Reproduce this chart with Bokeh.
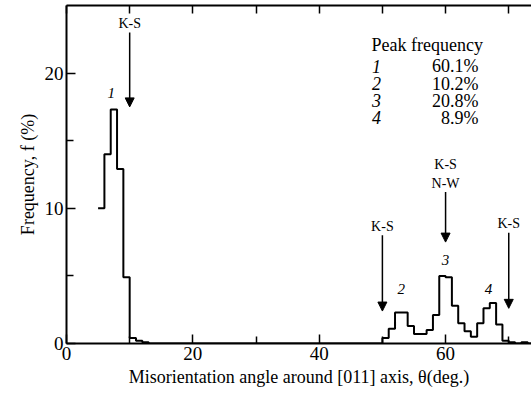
from bokeh.plotting import figure
from bokeh.models import (FixedTicker, LinearAxis, Arrow, NormalHead, Range1d,
                          ColumnDataSource)
from bokeh.core.properties import value
from bokeh.embed import file_html
from bokeh.resources import INLINE

FONT = "Liberation Serif"

# ---- data -------------------------------------------------------------
bin_start = 5          # first bin's left edge (deg)
bin_width = 1          # deg
frequency = [10.0, 14.0, 17.3, 12.9, 4.9, 0.4, 0.2, 0.1,
             0, 0, 0, 0, 0, 0, 0, 0, 0, 0, 0, 0, 0, 0, 0, 0, 0, 0, 0,
             0, 0, 0, 0, 0, 0, 0, 0, 0, 0, 0, 0, 0, 0, 0, 0, 0, 0,
             0.4, 1.1, 2.3, 2.3, 1.3, 0.7, 0.7, 1.0, 2.1, 5.0, 4.9, 2.8,
             1.5, 0.9, 0.5, 1.5, 2.6, 3.0, 1.4, 0.2, 0.1, 0.0, 0.1, 0.0]

x_ticks = [0, 20, 40, 60]
x_minor = [10, 30, 50, 70]
y_ticks = [0, 10, 20]
y_minor = [5, 15]

# K-S / N-W orientation markers
marker_angle = [10, 50, 60, 70]
marker_top = [23.0, 8.0, 11.2, 8.2]
marker_tip = [17.5, 2.4, 7.5, 2.6]
marker_label_x = [10, 50, 60, 60, 70]
marker_label_y = [23.1, 8.1, 11.3, 12.65, 8.3]
marker_label = ["K-S", "K-S", "N-W", "K-S", "K-S"]

# peak numbers
peak_ids = ["1", "2", "3", "4"]
peak_x = [7.1, 53.0, 60.0, 66.8]
peak_y = [18.5, 4.05, 6.15, 4.05]
peak_freq = ["60.1%", "10.2%", "20.8%", "8.9%"]

# ---- figure -------------------------------------------------------------
p = figure(width=531, height=396, output_backend="svg", toolbar_location=None,
           x_range=Range1d(0, 73.6), y_range=Range1d(0, 25),
           min_border_left=66, min_border_right=0, min_border_top=5,
           min_border_bottom=53)
p.grid.visible = False
p.outline_line_color = None
p.background_fill_color = "white"
p.border_fill_color = "white"

bottom_axis = p.below[0]
left_axis = p.left[0]
bottom_axis.ticker = FixedTicker(ticks=x_ticks, minor_ticks=x_minor)
left_axis.ticker = FixedTicker(ticks=y_ticks, minor_ticks=y_minor)

# top spine: ticks only (all as minor ticks, so no labels are produced)
top_axis = LinearAxis(ticker=FixedTicker(ticks=[], minor_ticks=x_ticks + x_minor),
                      major_label_standoff=0)
p.add_layout(top_axis, "above")

for ax in [bottom_axis, left_axis, top_axis]:
    ax.axis_line_width = 2
    ax.axis_line_color = "black"
    ax.major_tick_in = 9
    ax.major_tick_out = 0
    ax.minor_tick_in = 7
    ax.minor_tick_out = 0
    ax.major_tick_line_width = 1.5
    ax.minor_tick_line_width = 1.5
    ax.major_tick_line_color = "black"
    ax.minor_tick_line_color = "black"
top_axis.minor_tick_in = 8

for ax in [bottom_axis, left_axis]:
    ax.major_label_text_font = FONT
    ax.major_label_text_font_size = "19px"
    ax.major_label_text_color = "black"
    ax.major_label_standoff = 3
    ax.axis_label_text_font = FONT
    ax.axis_label_text_font_size = "18px"
    ax.axis_label_text_font_style = "normal"
    ax.axis_label_text_color = "black"
    ax.axis_label_standoff = 4

bottom_axis.axis_label = "Misorientation angle around [011] axis, \u03b8(deg.)"
left_axis.axis_label = "Frequency, f (%)"

# ---- histogram (step line) ------------------------------------------------
edges = [bin_start + i * bin_width for i in range(len(frequency) + 1)]
levels = frequency + [0.0]
p.step(x=edges, y=levels, mode="after", line_color="black", line_width=2)

# ---- arrows ---------------------------------------------------------------
arrow_src = ColumnDataSource(dict(x0=marker_angle, y0=marker_top,
                                  x1=marker_angle, y1=marker_tip))
p.add_layout(Arrow(end=NormalHead(size=9, fill_color="black",
                                  line_color="black", line_width=1),
                   x_start="x0", y_start="y0", x_end="x1", y_end="y1",
                   source=arrow_src, line_color="black", line_width=1.5))

p.text(x=marker_label_x, y=marker_label_y, text=marker_label,
       text_font=value(FONT), text_font_size="14px", text_color="black",
       text_align="center", text_baseline="bottom")

p.text(x=peak_x, y=peak_y, text=peak_ids, text_font=value(FONT),
       text_font_size="15px", text_font_style="italic", text_color="black",
       text_align="center", text_baseline="middle")

# ---- peak frequency table -----------------------------------------------
table_y = [20.5 - i * 1.27 for i in range(len(peak_ids))]
p.text(x=[57.1], y=[22.1], text=["Peak frequency"], text_font=value(FONT),
       text_font_size="18px", text_color="black", text_align="center",
       text_baseline="middle")
p.text(x=[49.05] * len(peak_ids), y=table_y, text=peak_ids,
       text_font=value(FONT), text_font_size="18px", text_font_style="italic",
       text_color="black", text_align="center", text_baseline="middle")
p.text(x=[65.2] * len(peak_ids), y=table_y, text=peak_freq,
       text_font=value(FONT), text_font_size="18px", text_color="black",
       text_align="right", text_baseline="middle")

open("out.html", "w").write(file_html(p, INLINE))
